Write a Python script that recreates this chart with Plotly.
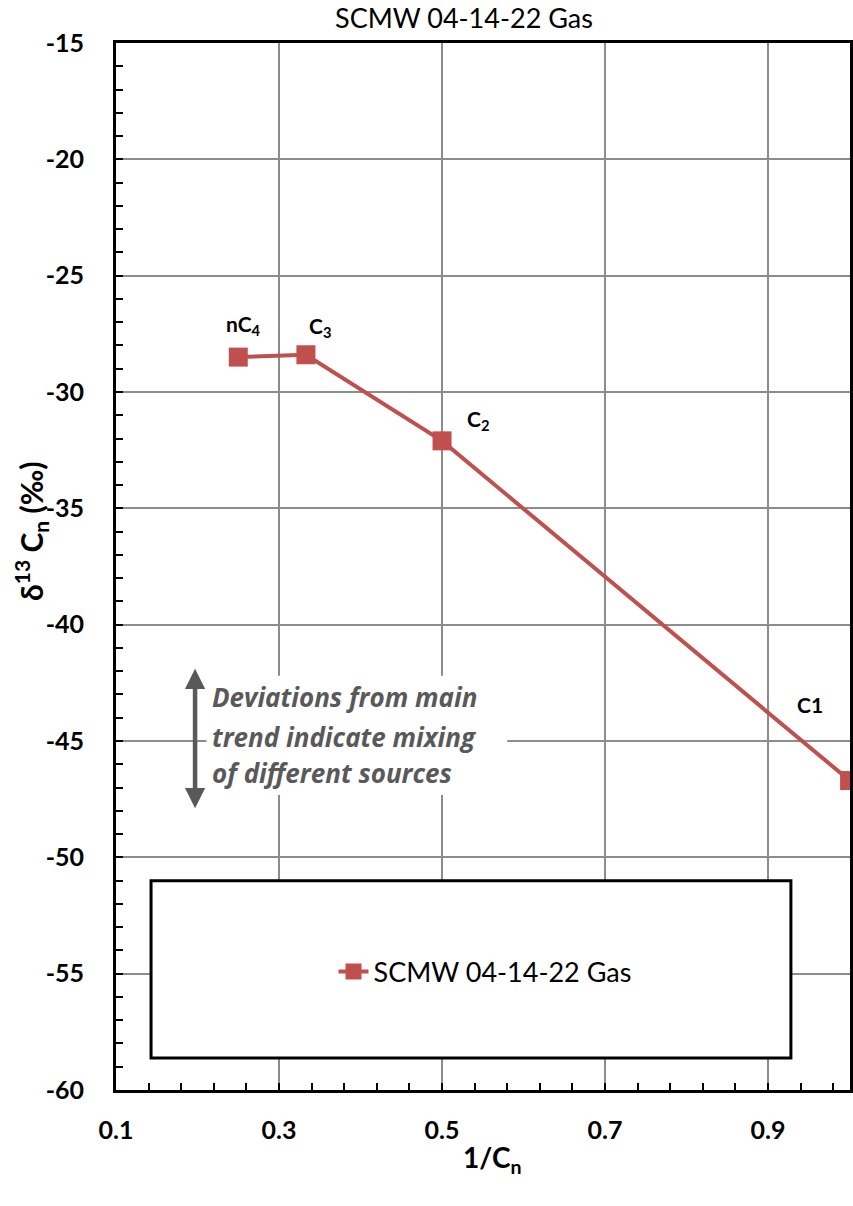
import plotly.graph_objects as go

# Data
inv_cn = [0.25, 0.333, 0.5, 1.0]
d13c = [-28.5, -28.4, -32.1, -46.7]
point_labels = ["nC<sub>4</sub>", "C<sub>3</sub>", "C<sub>2</sub>", "C1"]
label_x = [0.257, 0.35, 0.544, 0.951]
label_y = [-27.1, -27.2, -31.2, -43.45]
series_name = "SCMW 04-14-22 Gas"
note_lines = ["Deviations from main", "trend indicate mixing", "of different sources"]
note_y = [-43.1, -44.82, -46.37]
x_tickvals = [0.1, 0.3, 0.5, 0.7, 0.9]
x_ticktext = ["0.1", "0.3", "0.5", "0.7", "0.9"]
y_tickvals = [-60, -55, -50, -45, -40, -35, -30, -25, -20, -15]
y_ticktext = ["-60", "-55", "-50", "-45", "-40", "-35", "-30", "-25", "-20", "-15"]

RED = "#C0504D"
GRAY = "#595959"
FONT = "Lato"

L, R, T, B = 116, 3, 43, 116
W, H = 853, 1206
PW, PH = W - L - R, H - T - B


def px_x(px):
    return (px - L) / PW


def px_y(py):
    return (H - B - py) / PH


fig = go.Figure()
fig.add_trace(go.Scatter(
    x=inv_cn, y=d13c, mode="lines+markers", name=series_name,
    line=dict(color=RED, width=4),
    marker=dict(symbol="square", size=19, color=RED),
    showlegend=True,
))

annotations = []
for tx, ty, t in zip(label_x, label_y, point_labels):
    annotations.append(dict(x=tx, y=ty, xref="x", yref="y", text="<b>" + t + "</b>",
                            showarrow=False, font=dict(family=FONT, size=21, color="black")))
for t, ty in zip(note_lines, note_y):
    annotations.append(dict(x=0.2155, y=ty, xref="x", yref="y", text="<b><i>" + t + "</i></b>",
                            showarrow=False, xanchor="left", yanchor="middle",
                            font=dict(family="Open Sans", size=26, color=GRAY)))
# double-headed arrow
annotations.append(dict(x=0.197, y=-41.9, ax=0.197, ay=-47.96, xref="x", yref="y",
                        axref="x", ayref="y", text="", showarrow=True,
                        arrowhead=2, startarrowhead=2, arrowside="end+start",
                        arrowsize=0.9, startarrowsize=0.9, arrowwidth=4.5, arrowcolor=GRAY))
# axis titles
annotations.append(dict(x=px_x(492), y=px_y(1159), xref="paper", yref="paper",
                        text="<b>1/C<sub>n</sub></b>", showarrow=False,
                        xanchor="center", yanchor="middle",
                        font=dict(family=FONT, size=28, color="black")))
annotations.append(dict(x=px_x(31), y=px_y(531), xref="paper", yref="paper",
                        text="<b>δ<sup>13</sup> C<sub>n</sub> (‰)</b>", showarrow=False,
                        textangle=-90, xanchor="center", yanchor="middle",
                        font=dict(family=FONT, size=30, color="black")))

fig.update_layout(
    width=W, height=H,
    margin=dict(l=L, r=R, t=T, b=B),
    paper_bgcolor="white", plot_bgcolor="white",
    title=dict(text=series_name, x=464 / W, xanchor="center", y=1 - 19 / H, yanchor="middle",
               font=dict(family=FONT, size=27, color="black")),
    showlegend=True,
    legend=dict(x=px_x(485), y=px_y(972), xanchor="center", yanchor="middle",
                bgcolor="rgba(0,0,0,0)", borderwidth=0,
                font=dict(family=FONT, size=27, color="black")),
    annotations=annotations,
    shapes=[
        dict(type="rect", xref="x", yref="y", x0=0.143, x1=0.928, y0=-58.62, y1=-51.01,
             line=dict(color="black", width=3), fillcolor="white", layer="between"),
        dict(type="rect", xref="x", yref="y", x0=0.211, x1=0.58, y0=-47.32, y1=-42.2,
             line=dict(width=0), fillcolor="white", layer="between"),
    ],
)

fig.update_xaxes(
    range=[0.1, 1.0005], tickmode="array", tickvals=x_tickvals, ticktext=x_ticktext,
    automargin=False,
    showgrid=True, gridcolor="#8C8C8C", gridwidth=1.5,
    showline=True, linecolor="black", linewidth=3, mirror=True,
    ticks="inside", ticklen=7, tickwidth=2, tickcolor="black",
    minor=dict(dtick=0.04, tick0=0.1, ticks="inside", ticklen=7, tickwidth=2, tickcolor="black", showgrid=False),
    tickfont=dict(family=FONT, size=25, color="black", weight="bold"),
    ticklabelstandoff=16,
    zeroline=False,
)
fig.update_yaxes(
    range=[-60, -15], tickmode="array", tickvals=y_tickvals, ticktext=y_ticktext,
    automargin=False,
    showgrid=True, gridcolor="#8C8C8C", gridwidth=1.5,
    showline=True, linecolor="black", linewidth=3, mirror=True,
    ticks="inside", ticklen=7, tickwidth=2, tickcolor="black",
    minor=dict(dtick=1, tick0=-60, ticks="inside", ticklen=7, tickwidth=2, tickcolor="black", showgrid=False),
    tickfont=dict(family=FONT, size=25, color="black", weight="bold"),
    ticklabelstandoff=24,
    zeroline=False,
)

fig.write_html("out.html", config={"displayModeBar": False},
               post_script="document.body.style.margin='0';document.body.style.overflow='hidden';")
